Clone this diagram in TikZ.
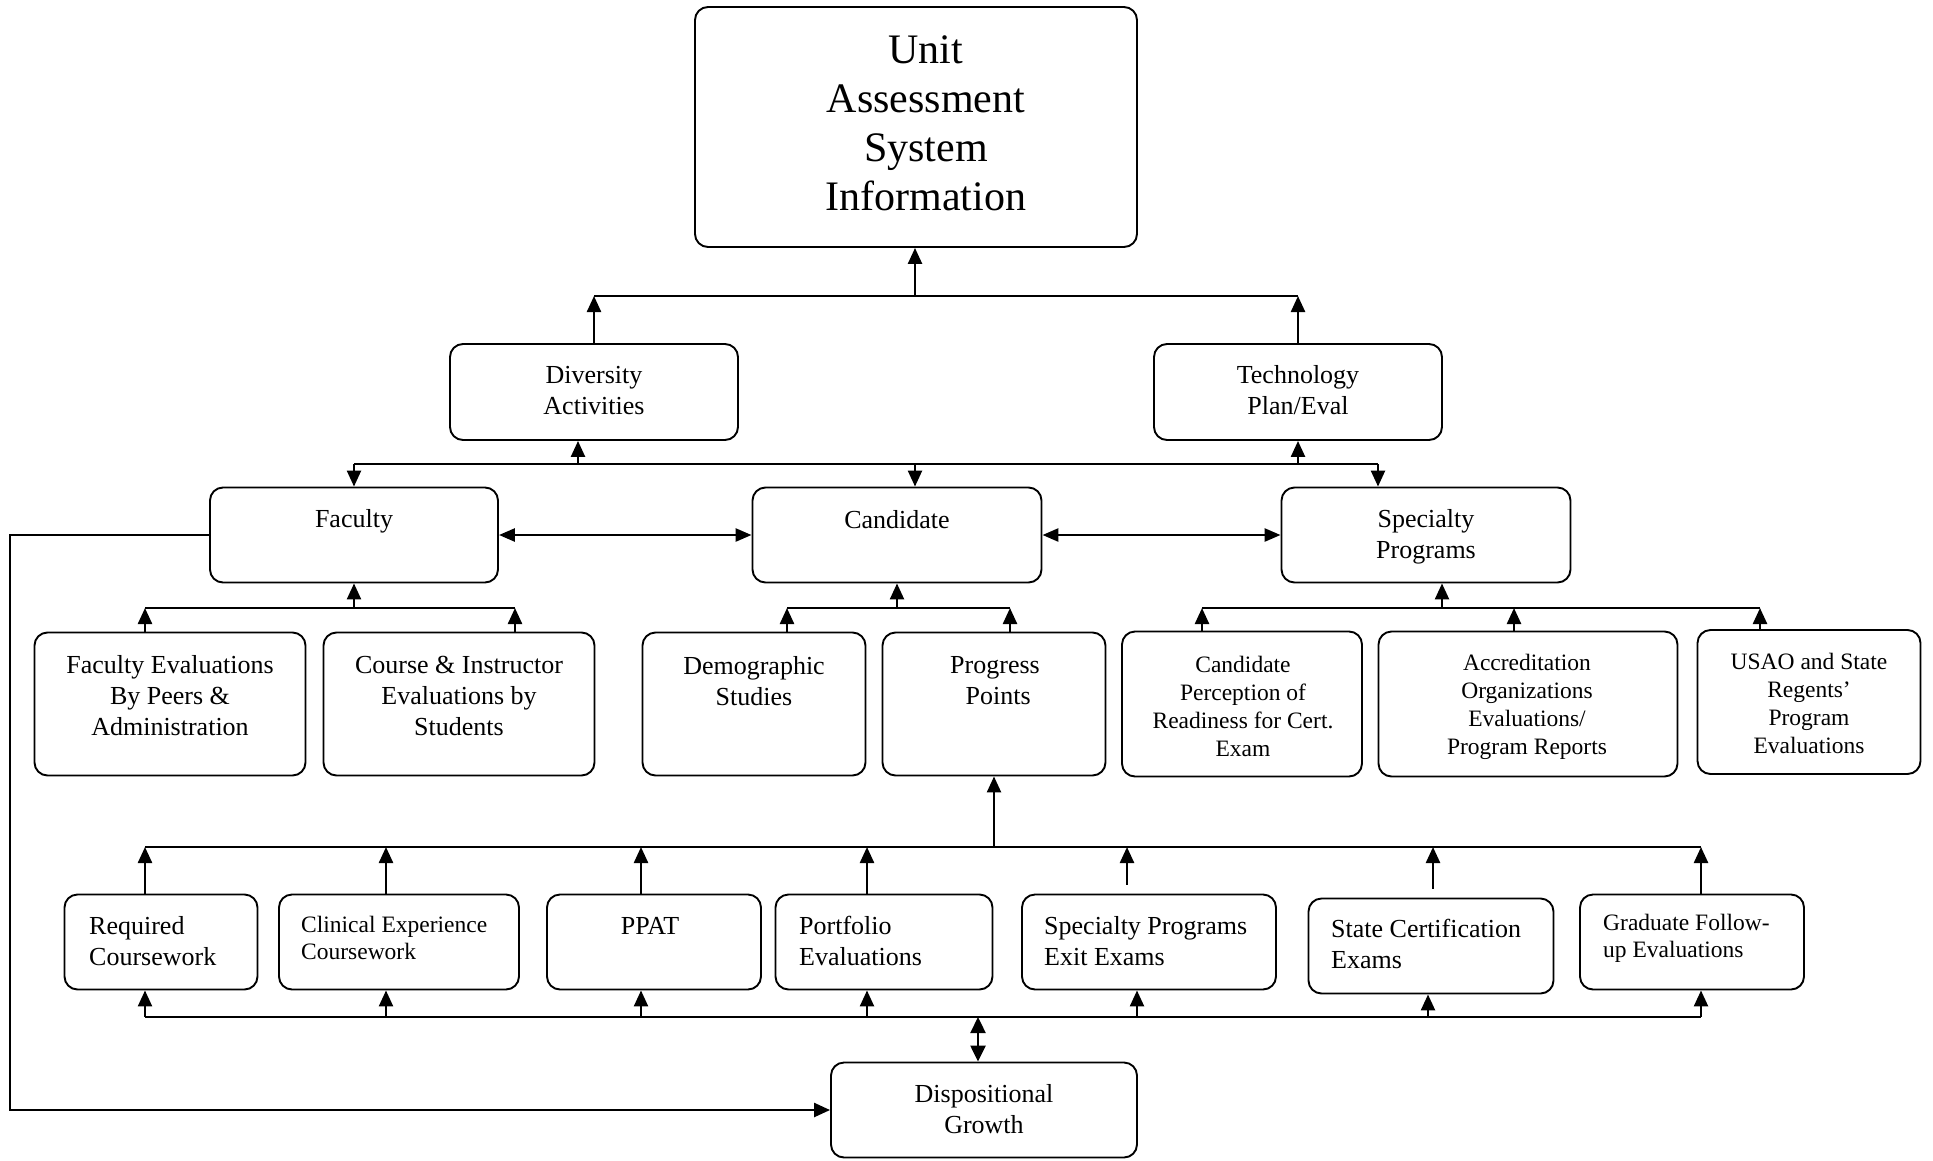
\documentclass[tikz,border=0pt]{standalone}
\usepackage{fontspec}
\setmainfont{Liberation Serif}
\usetikzlibrary{arrows.meta}
\begin{document}
\begin{tikzpicture}[x=1pt,y=-1pt,
  box/.style={draw, line width=1.9pt, rounded corners=13pt, inner sep=0pt},
  conn/.style={line width=2.4pt},
  arr/.style={line width=2.4pt, -{Triangle[length=16pt,width=14pt]}},
  darr/.style={line width=2.6pt, {Triangle[length=16pt,width=13pt]}-{Triangle[length=16pt,width=13pt]}},
  big/.style={font=\fontsize{42}{49}\selectfont, align=center, inner sep=0pt},
  mid/.style={font=\fontsize{26}{31}\selectfont, align=center, inner sep=0pt},
  sml/.style={font=\fontsize{23.5}{28}\selectfont, align=center, inner sep=0pt},
  lmid/.style={font=\fontsize{26}{31}\selectfont, align=left, anchor=west, inner sep=0pt},
  lsml/.style={font=\fontsize{23.5}{27}\selectfont, align=left, anchor=west, inner sep=0pt},
]
\useasboundingbox (0,0) rectangle (1933,1160);

% boxes
\node[box, minimum width=442pt, minimum height=240pt] (top) at (916,127) {};
\node[box, minimum width=288pt, minimum height=96pt] (div) at (594,392) {};
\node[box, minimum width=288pt, minimum height=96pt] (tech) at (1298,392) {};
\node[box, minimum width=288pt, minimum height=95pt] (fac) at (354,535) {};
\node[box, minimum width=289pt, minimum height=95pt] (cand) at (897,535) {};
\node[box, minimum width=289pt, minimum height=95pt] (spec) at (1426,535) {};
\node[box, minimum width=271pt, minimum height=143pt] (fe) at (170,704) {};
\node[box, minimum width=271pt, minimum height=143pt] (ci) at (459,704) {};
\node[box, minimum width=223pt, minimum height=143pt] (demo) at (754,704) {};
\node[box, minimum width=223pt, minimum height=143pt] (prog) at (994,704) {};
\node[box, minimum width=240pt, minimum height=145pt] (cp) at (1242,704) {};
\node[box, minimum width=299pt, minimum height=145pt] (acc) at (1528,704) {};
\node[box, minimum width=223pt, minimum height=144pt] (usao) at (1809,702) {};
\node[box, minimum width=193pt, minimum height=95pt] (req) at (161,942) {};
\node[box, minimum width=240pt, minimum height=95pt] (clin) at (399,942) {};
\node[box, minimum width=214pt, minimum height=95pt] (ppat) at (654,942) {};
\node[box, minimum width=217pt, minimum height=95pt] (port) at (884,942) {};
\node[box, minimum width=254pt, minimum height=95pt] (spx) at (1149,942) {};
\node[box, minimum width=245pt, minimum height=95pt] (sce) at (1431,946) {};
\node[box, minimum width=224pt, minimum height=95pt] (grad) at (1692,942) {};
\node[box, minimum width=306pt, minimum height=95pt] (disp) at (984,1110) {};

% texts
\node[big] (ttop) at (926,123) {Unit\\Assessment\\System\\Information};
\node[mid] (tdiv) at (594,391) {Diversity\\Activities};
\node[mid] (ttech) at (1298,390) {Technology\\Plan/Eval};
\node[mid] (tfac) at (354,521) {Faculty};
\node[mid] (tcand) at (897,520) {Candidate};
\node[mid] (tspec) at (1426,537) {Specialty\\Programs};
\node[mid] (tfe) at (170,696) {Faculty Evaluations\\By Peers \&\\Administration};
\node[mid] (tci) at (459,696) {Course \& Instructor\\Evaluations by\\Students};
\node[mid] (tdemo) at (754,681) {Demographic\\Studies};
\node[mid] (tprog) at (995,681) {Progress\\\ Points};
\node[sml] (tcp) at (1243,706) {Candidate\\Perception of\\Readiness for Cert.\\Exam};
\node[sml] (tacc) at (1527,707) {Accreditation\\Organizations\\Evaluations/\\Program Reports};
\node[sml] (tusao) at (1809,703) {USAO and State\\Regents’\\Program\\Evaluations};
\node[lmid] (treq) at (89,941) {Required\\Coursework};
\node[lsml] (tclin) at (301,938) {Clinical Experience\\Coursework};
\node[mid] (tppat) at (650,926) {PPAT};
\node[lmid] (tport) at (799,941) {Portfolio\\Evaluations};
\node[lmid] (tspx) at (1044,941) {Specialty Programs\\Exit Exams};
\node[lmid] (tsce) at (1331,944) {State Certification\\Exams};
\node[lsml] (tgrad) at (1603,938) {Graduate Follow-\\up Evaluations};
\node[mid] (tdisp) at (984,1109) {Dispositional\\Growth};

% level 1 bar
\coordinate (j0l) at (594,296);
\coordinate (j0) at (915,296);
\coordinate (j0r) at (1298,296);
\draw[conn] (j0l) -- (j0r);
\draw[arr] (div.north) -- (j0l);
\draw[arr] (tech.north) -- (j0r);
\draw[arr] (j0) -- (j0 |- top.south);

% level 2 bar
\coordinate (j1a) at (354,464);
\coordinate (j1b) at (578,464);
\coordinate (j1c) at (915,464);
\coordinate (j1d) at (1298,464);
\coordinate (j1e) at (1378,464);
\draw[conn] (j1a) -- (j1e);
\draw[arr] (j1b) -- (j1b |- div.south);
\draw[arr] (j1d) -- (j1d |- tech.south);
\draw[arr] (j1a) -- (j1a |- fac.north);
\draw[arr] (j1c) -- (j1c |- cand.north);
\draw[arr] (j1e) -- (j1e |- spec.north);

% horizontal double arrows
\draw[darr] (fac.east) -- (cand.west);
\draw[darr] (cand.east) -- (spec.west);

% faculty children
\coordinate (fa) at (145,608);
\coordinate (fb) at (354,608);
\coordinate (fc) at (515,608);
\draw[conn] (fa) -- (fc);
\draw[arr] (fb) -- (fb |- fac.south);
\draw[arr] (fa |- fe.north) -- (fa);
\draw[arr] (fc |- ci.north) -- (fc);

% candidate children
\coordinate (ca) at (787,608);
\coordinate (cb) at (897,608);
\coordinate (cc) at (1010,608);
\draw[conn] (ca) -- (cc);
\draw[arr] (cb) -- (cb |- cand.south);
\draw[arr] (ca |- demo.north) -- (ca);
\draw[arr] (cc |- prog.north) -- (cc);

% specialty children
\coordinate (sa) at (1202,608);
\coordinate (sb) at (1442,608);
\coordinate (sc) at (1514,608);
\coordinate (sd) at (1760,608);
\draw[conn] (sa) -- (sd);
\draw[arr] (sb) -- (sb |- spec.south);
\draw[arr] (sa |- cp.north) -- (sa);
\draw[arr] (sc |- acc.north) -- (sc);
\draw[arr] (sd |- usao.north) -- (sd);

% progress points row
\coordinate (pp) at (994,847);
\coordinate (r1) at (145,847);
\coordinate (r2) at (386,847);
\coordinate (r3) at (641,847);
\coordinate (r4) at (867,847);
\coordinate (r5) at (1127,847);
\coordinate (r6) at (1433,847);
\coordinate (r7) at (1701,847);
\draw[conn] (r1) -- (r7);
\draw[arr] (pp) -- (pp |- prog.south);
\draw[arr] (r1 |- req.north) -- (r1);
\draw[arr] (r2 |- clin.north) -- (r2);
\draw[arr] (r3 |- ppat.north) -- (r3);
\draw[arr] (r4 |- port.north) -- (r4);
\draw[arr] ([yshift=9pt]r5 |- spx.north) -- (r5);
\draw[arr] ([yshift=9pt]r6 |- sce.north) -- (r6);
\draw[arr] (r7 |- grad.north) -- (r7);

% bottom bar
\coordinate (b1) at (145,1017);
\coordinate (b2) at (386,1017);
\coordinate (b3) at (641,1017);
\coordinate (b4) at (867,1017);
\coordinate (b5) at (1137,1017);
\coordinate (b6) at (1428,1017);
\coordinate (b7) at (1701,1017);
\coordinate (bd) at (978,1017);
\draw[conn] (b1) -- (b7);
\draw[arr] (b1) -- (b1 |- req.south);
\draw[arr] (b2) -- (b2 |- clin.south);
\draw[arr] (b3) -- (b3 |- ppat.south);
\draw[arr] (b4) -- (b4 |- port.south);
\draw[arr] (b5) -- (b5 |- spx.south);
\draw[arr] (b6) -- (b6 |- sce.south);
\draw[arr] (b7) -- (b7 |- grad.south);
\draw[line width=2.4pt, {Triangle[length=16pt,width=15pt]}-{Triangle[length=16pt,width=15pt]}] (bd) -- (bd |- disp.north);

% feedback loop
\coordinate (lp) at (10,536);
\draw[arr] (fac.west) -- (fac.west -| lp) |- (disp.west);

\end{tikzpicture}
\end{document}
